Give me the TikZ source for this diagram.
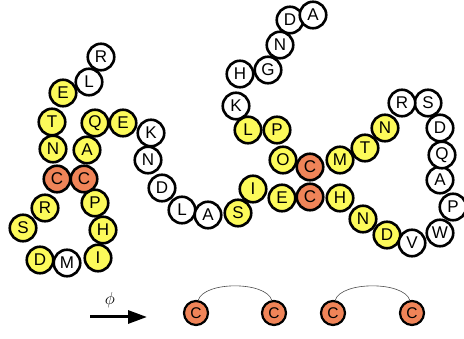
\documentclass[tikz,border=0pt]{standalone}
\usepackage{fontspec}
\setmainfont{Liberation Sans}
\usetikzlibrary{arrows.meta}
\definecolor{resyellow}{RGB}{252,250,90}
\definecolor{resorange}{RGB}{240,132,88}
\begin{document}
\begin{tikzpicture}[x=1pt, y=-1pt, >={Stealth[length=19pt,width=13pt,inset=0pt]},
    residue/.style={circle, draw=black, line width=2.6pt, minimum size=26.5pt, inner sep=0pt,
        font=\fontsize{17}{17}\selectfont},
    cys/.style={circle, draw=black, line width=2.2pt, fill=resorange, minimum size=24pt, inner sep=0pt,
        font=\fontsize{15.5}{15.5}\selectfont}]

    \useasboundingbox (0,0) rectangle (464,339);

    % 1. Cadena de residuos (en orden de la secuencia)
    \foreach \x/\y/\l/\c [count=\i] in {
        101/57/R/white, 89/82/L/white, 63/93/E/resyellow, 52/122/T/resyellow,
        53/149/N/resyellow, 57/179/C/resorange, 45/208/R/resyellow, 23/228/S/resyellow,
        40/260/D/resyellow, 67/263/M/white, 98/258/I/resyellow, 103/230/H/resyellow,
        95/203/P/resyellow, 84/179/C/resorange, 87/150/A/resyellow, 95/123/Q/resyellow,
        123/123/E/resyellow, 151/133/K/white, 148/160/N/white, 162/188/D/white,
        182/210/L/white, 208/215/A/white, 238/213/S/resyellow, 253/189/I/resyellow,
        282/198/E/resyellow, 310/197/C/resorange, 340/198/H/resyellow, 363/219/N/resyellow,
        387/235/D/resyellow, 412/243/V/white, 440/233/W/white, 453/207/P/white,
        440/180/A/white, 442/155/Q/white, 440/128/D/white, 428/103/S/white,
        402/103/R/white, 385/128/N/resyellow, 365/148/T/resyellow, 340/160/M/resyellow,
        310/167/C/resorange, 283/160/O/resyellow, 277/130/P/resyellow, 248/130/L/resyellow,
        236/106/K/white, 240/74/H/white, 268/70/G/white, 280/45/N/white,
        290/20/D/white, 313/15/A/white} {
        \node[residue, fill=\c] (r\i) at (\x,\y) {\l};
    }

    % 2. Flecha phi
    \coordinate (phistart) at (90,317);
    \coordinate (phiend) at (147,317);
    \draw[->, line width=3pt] (phistart) -- (phiend);
    \node (phi) at (110,300) {\fontsize{17}{17}\selectfont$\phi$};

    % 3. Cisteinas emparejadas
    \node[cys] (c1) at (196,313) {C};
    \node[cys] (c2) at (274,313) {C};
    \node[cys] (c3) at (333,313) {C};
    \node[cys] (c4) at (412,313) {C};

    % Puentes entre pares
    \draw[black!70, line width=0.6pt] (c1.80) .. controls +(6,-19) and +(-6,-19) .. (c2.100);
    \draw[black!70, line width=0.6pt] (c3.80) .. controls +(6,-19) and +(-6,-19) .. (c4.100);

\end{tikzpicture}
\end{document}
